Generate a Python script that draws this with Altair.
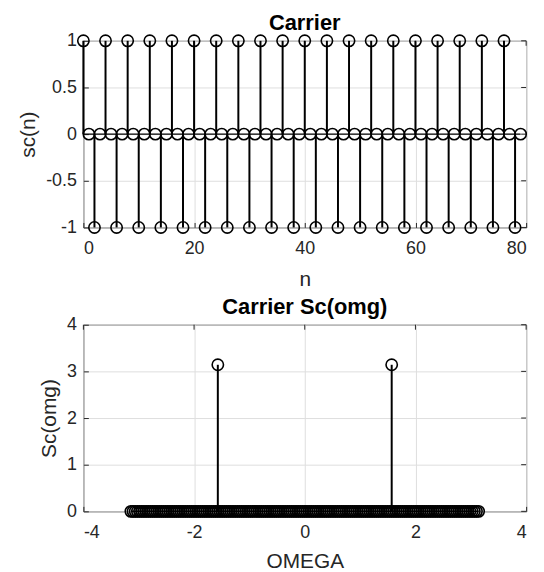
import altair as alt
import numpy as np
import pandas as pd

# Carrier samples sc(n) = cos(pi*n/2), n = 0..79
n_vals = list(range(80))
sc_vals = [1, 0, -1, 0, 1, 0, -1, 0, 1, 0, -1, 0, 1, 0, -1, 0, 1, 0, -1, 0,
           1, 0, -1, 0, 1, 0, -1, 0, 1, 0, -1, 0, 1, 0, -1, 0, 1, 0, -1, 0,
           1, 0, -1, 0, 1, 0, -1, 0, 1, 0, -1, 0, 1, 0, -1, 0, 1, 0, -1, 0,
           1, 0, -1, 0, 1, 0, -1, 0, 1, 0, -1, 0, 1, 0, -1, 0, 1, 0, -1, 0]

# Spectrum Sc(omg): frequency grid over [-pi, pi], two impulses at +/- pi/2
omega_grid = np.linspace(-np.pi, np.pi, 161)
peak_omega = [-1.5708, 1.5708]
peak_mag = [3.1416, 3.1416]

FONT = "Liberation Sans"
INK = "#262626"
GRID = "#dedede"
TICK = 5

top_xticks = [0, 20, 40, 60, 80]
top_yticks = [-1, -0.5, 0, 0.5, 1]
bot_xticks = [-4, -2, 0, 2, 4]
bot_yticks = [0, 1, 2, 3, 4]

top_df = pd.DataFrame({"n": n_vals, "sc": sc_vals, "zero": 0})
top_base_df = pd.DataFrame({"x1": [min(n_vals)], "x2": [max(n_vals)], "y": [0]})

spec_omega = list(omega_grid) + peak_omega
spec_mag = [0.0] * len(omega_grid) + peak_mag
bot_df = pd.DataFrame({"w": spec_omega, "mag": spec_mag, "zero": 0})
bot_base_df = pd.DataFrame({"x1": [min(spec_omega)], "x2": [max(spec_omega)], "y": [0]})

W, H = 446, 188

# plain hyphen for negative tick labels
LABEL = "datum.value < 0 ? '-' + format(-datum.value, '~g') : format(datum.value, '~g')"


def stem_panel(df, base_df, xf, yf, xdom, xticks, ydom, yticks, xtitle, ytitle, title,
               xtitle_pad):
    xs = alt.Scale(domain=xdom, nice=False, zero=False)
    ys = alt.Scale(domain=ydom, nice=False, zero=False)
    # inward ticks: shift each axis inside the box by the tick length
    xax = alt.Axis(values=xticks, title=xtitle, grid=True, tickSize=TICK, offset=-TICK,
                   labelPadding=12, titlePadding=xtitle_pad, domain=False, labelExpr=LABEL)
    yax = alt.Axis(values=yticks, title=ytitle, grid=True, tickSize=TICK, offset=-TICK,
                   labelPadding=7, titlePadding=7, domain=False, labelExpr=LABEL)
    baseline = alt.Chart(base_df).mark_rule(color="black", strokeWidth=1.5).encode(
        x=alt.X("x1:Q", scale=xs, axis=xax),
        x2="x2:Q",
        y=alt.Y("y:Q", scale=ys, axis=yax),
    )
    # inward tick marks along the top and right edges of the box
    top_ticks = alt.Chart(pd.DataFrame({"t": xticks})).mark_rule(
        color=INK, strokeWidth=1).encode(
        x=alt.X("t:Q", scale=xs), y=alt.value(0), y2=alt.value(TICK))
    right_ticks = alt.Chart(pd.DataFrame({"t": yticks})).mark_rule(
        color=INK, strokeWidth=1).encode(
        y=alt.Y("t:Q", scale=ys), x=alt.value(W - TICK), x2=alt.value(W))
    stems = alt.Chart(df).mark_rule(color="black", strokeWidth=2).encode(
        x=alt.X(f"{xf}:Q", scale=xs),
        y=alt.Y("zero:Q", scale=ys),
        y2=f"{yf}:Q",
    )
    heads = alt.Chart(df).mark_point(shape="circle", filled=False, color="black",
                                     size=130, strokeWidth=1.6, opacity=1).encode(
        x=alt.X(f"{xf}:Q", scale=xs),
        y=alt.Y(f"{yf}:Q", scale=ys),
    )
    return alt.layer(baseline, top_ticks, right_ticks, stems, heads).properties(
        width=W, height=H,
        title=alt.TitleParams(title, font=FONT, fontSize=22, fontWeight="bold",
                              color="black", offset=-3),
    )


top = stem_panel(top_df, top_base_df, "n", "sc", [0, 80], top_xticks,
                 [-1, 1], top_yticks, "n", "sc(n)", "Carrier", 11)
bottom = stem_panel(bot_df, bot_base_df, "w", "mag", [-4, 4], bot_xticks,
                    [0, 4], bot_yticks, "OMEGA", "Sc(omg)", "Carrier Sc(omg)", 10)

chart = alt.vconcat(top, bottom, spacing=5).properties(
    padding={"left": 17, "top": 9, "right": 14, "bottom": 0},
    background="white",
).configure_view(stroke=INK, strokeWidth=1).configure_axis(
    labelFont=FONT, labelFontSize=18, labelColor=INK, tickColor=INK,
    titleFont=FONT, titleFontSize=21, titleFontWeight="normal", titleColor=INK,
    gridColor=GRID, gridWidth=1,
)

chart.save("out.html", embed_options={"renderer": "svg", "actions": False})
